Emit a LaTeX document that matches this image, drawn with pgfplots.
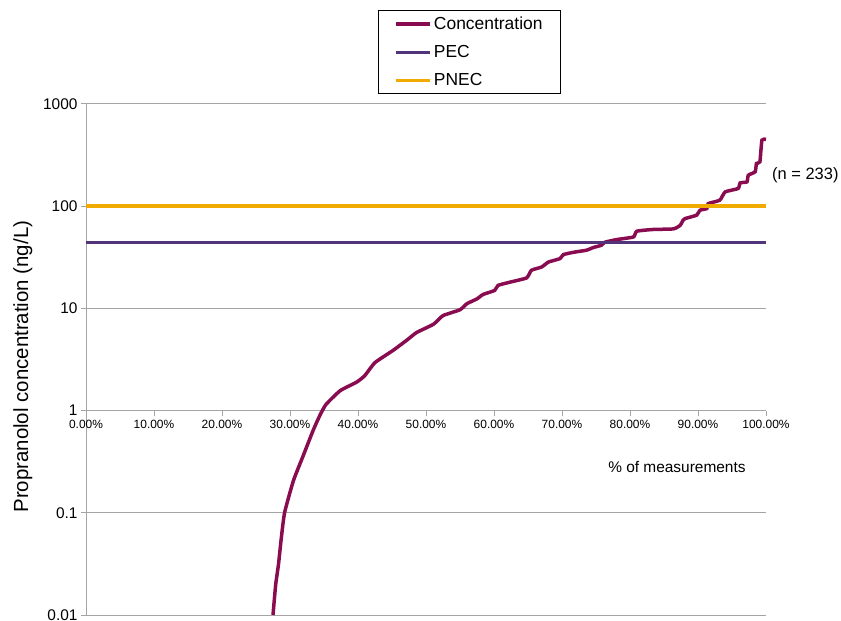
\documentclass[border=0pt]{standalone}
\usepackage{pgfplots}
\pgfplotsset{compat=1.18}
\usepackage{fontspec}
\setmainfont{Liberation Sans}
\definecolor{conc}{RGB}{138,12,80}
\definecolor{pec}{RGB}{82,52,122}
\definecolor{pnec}{RGB}{240,170,0}
\definecolor{gridgray}{RGB}{165,165,165}
\begin{document}
\begin{tikzpicture}
\useasboundingbox (0,0) rectangle (841bp,621bp);
\begin{axis}[
  at={(86bp,6bp)}, anchor=south west,
  scale only axis, width=680bp, height=511bp,
  ymode=log, ymin=0.01, ymax=1000,
  xmin=0, xmax=100,
  axis x line=middle, axis y line=left,
  axis line style={-, gridgray, line width=1bp},
  hide obscured x ticks=false,
  xtick={0,10,...,100},
  xticklabels={0.00\%,10.00\%,20.00\%,30.00\%,40.00\%,50.00\%,60.00\%,70.00\%,80.00\%,90.00\%,100.00\%},
  ytick={0.01,0.1,1,10,100,1000},
  yticklabels={0.01,0.1,1,10,100,1000},
  minor ytick={},
  yminorticks=false,
  ymajorgrids, major grid style={gridgray, line width=1bp},
  tick style={gridgray, line width=1bp},
  tick align=outside, major tick length=5bp,
  xticklabel style={font=\fontsize{12}{14}\selectfont, yshift=-1bp},
  yticklabel style={font=\fontsize{15.5}{17}\selectfont},
  /pgf/number format/assume math mode=true,
  ylabel={Propranolol concentration (ng/L)},
  ylabel style={at={(axis description cs:-0.093,0.486)}, anchor=center, font=\fontsize{20.5}{23}\selectfont},
  clip=false,
  legend style={at={(0.4294,1.184)}, anchor=north west, draw=black, line width=1bp,
    font=\fontsize{17.5}{19}\selectfont, inner xsep=16bp, inner ysep=4.5bp, row sep=10.5bp,
    cells={anchor=west}},
  legend image code/.code={\draw[#1, line width=3.5bp] (0bp,0bp) -- (34bp,0bp);},
]
\addplot[conc, line width=3.5bp, smooth, tension=0.3] coordinates {
(27.5,0.01)(27.9,0.02)(28.3,0.031)(28.7,0.055)(29.2,0.1)(30.5,0.206)(32.0,0.37)(33.4,0.64)
(34.4,0.9)(35.3,1.15)(37.4,1.57)(39.8,1.9)(41.0,2.2)(42.5,2.95)(45.2,3.9)(47.2,4.9)(48.6,5.8)
(51.1,7.0)(52.5,8.5)(55.0,9.7)(56.0,11.1)(57.5,12.4)(58.4,13.7)(60.1,15.0)(60.6,16.8)(62.4,18.1)
(64.8,19.9)(65.5,23.6)(67.0,25.4)(68.0,28.4)(69.7,30.7)(70.2,33.6)(71.7,35.4)(73.6,37.1)
(74.6,39.4)(75.8,41.5)(76.3,44.4)(78.0,47.1)(80.5,50.0)(81.0,56.9)(83.4,59.2)(86.4,60.0)
(87.4,65.2)(87.8,73)(88.1,75.7)(89.8,81.7)(90.3,91.4)(91.3,94.8)(91.5,106)(93.2,114.5)
(94.0,138)(95.9,149)(96.2,169)(97.2,173)(97.4,201)(98.4,217)(98.6,262)(99.1,272)(99.4,443)(100,450)
};
\addlegendentry{Concentration}
\addplot[pec, line width=3.5bp] coordinates {(0,44)(100,44)};
\addlegendentry{PEC}
\addplot[pnec, line width=3.5bp] coordinates {(0,100)(100,100)};
\addlegendentry{PNEC}
\node[font=\fontsize{15.5}{17}\selectfont] at (axis cs:86.9,0.28) {\% of measurements};
\node[font=\fontsize{16.5}{18}\selectfont, anchor=west] at (axis cs:100.4,201) {(n = 233)};
\end{axis}
\end{tikzpicture}
\end{document}
